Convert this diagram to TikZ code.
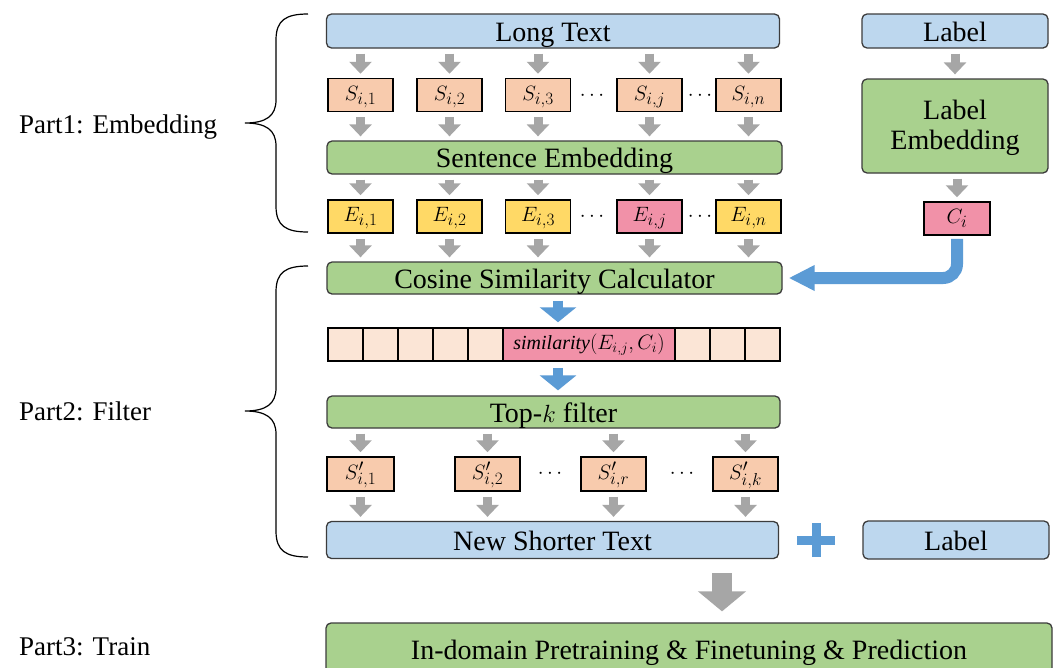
\documentclass[tikz,border=0pt]{standalone}
\usepackage{fontspec}
\setmainfont{Liberation Serif}
\DeclareMathSizes{22}{22}{17}{13}
\DeclareMathSizes{20}{20}{15}{12}
\usetikzlibrary{arrows.meta}
\definecolor{lblue}{RGB}{189,215,238}
\definecolor{lgreen}{RGB}{169,209,142}
\definecolor{peach}{RGB}{248,203,173}
\definecolor{yel}{RGB}{255,217,102}
\definecolor{mypink}{RGB}{241,145,168}
\definecolor{cellc}{RGB}{251,229,214}
\definecolor{garrc}{RGB}{166,166,166}
\definecolor{barrc}{RGB}{91,155,213}
\definecolor{bord}{RGB}{60,60,60}
\tikzset{
  rbox/.style={draw=bord, line width=1.3pt, rounded corners=5pt, inner sep=0pt, align=center, font=\fontsize{28}{31}\selectfont},
  oneline/.style={text height=22pt, text depth=2pt},
  sbox/.style={draw=black, line width=1.5pt, inner sep=0pt, minimum width=65pt, minimum height=33pt, text height=15pt, text depth=5pt, font=\fontsize{22}{24}\selectfont},
  cell/.style={draw=black, line width=1.5pt, fill=cellc, inner sep=0pt, minimum width=35pt, minimum height=33pt},
  garr/.style={draw=garrc, line width=9pt, -{Triangle[length=12pt,width=22pt]}, shorten <=5pt, shorten >=4pt},
  barr/.style={draw=barrc, line width=10pt, -{Triangle[length=15pt,width=36pt]}, shorten <=6pt, shorten >=5pt},
  partlab/.style={anchor=west, inner sep=0pt, font=\fontsize{27}{30}\selectfont},
  dots/.style={inner sep=0pt, font=\fontsize{20}{22}\selectfont},
  brace/.style={draw=black, line width=1.2pt}
}
\begin{document}
\begin{tikzpicture}[x=1pt,y=-1pt]
\clip (0,0) rectangle (1060,667);
\fill[white] (0,0) rectangle (1060,667);

% Part labels
\node[partlab] (p1) at (19,127) {Part1: Embedding};
\node[partlab] (p2) at (19,411) {Part2: Filter};
\node[partlab] (p3) at (19,647) {Part3: Train};

% braces
\draw[brace] (308,14) .. controls (286,14) and (276,20) .. (276,40) -- (276,100)
  .. controls (276,116) and (266,123) .. (245,123)
  .. controls (266,123) and (276,130) .. (276,146) -- (276,206)
  .. controls (276,226) and (286,232) .. (308,232);
\draw[brace] (308,266) .. controls (286,266) and (276,272) .. (276,292) -- (276,388)
  .. controls (276,404) and (266,411) .. (245,411)
  .. controls (266,411) and (276,418) .. (276,434) -- (276,531)
  .. controls (276,551) and (286,557) .. (308,557);

% Part 1
\node[rbox, oneline, fill=lblue, minimum width=453pt, minimum height=34pt] (lt) at (553,31) {Long Text};
\node[rbox, oneline, fill=lblue, minimum width=186pt, minimum height=34pt] (lab1) at (955,31) {Label};

\node[sbox, fill=peach] (s1) at (360.5,95) {$S_{i,1}$};
\node[sbox, fill=peach] (s2) at (449.5,95) {$S_{i,2}$};
\node[sbox, fill=peach] (s3) at (538,95) {$S_{i,3}$};
\node[sbox, fill=peach] (sj) at (649.5,95) {$S_{i,j}$};
\node[sbox, fill=peach] (sn) at (748.5,95) {$S_{i,n}$};
\node[dots] (d1) at (592,96) {$\cdots$};
\node[dots] (d2) at (700,96) {$\cdots$};

\node[rbox, oneline, fill=lgreen, minimum width=455pt, minimum height=33pt] (se) at (554.5,157.5) {Sentence Embedding};
\node[rbox, fill=lgreen, minimum width=186pt, minimum height=94pt] (le) at (955,126) {};
\node[align=center, inner sep=0pt, font=\fontsize{28}{30}\selectfont] (let) at (955,128) {Label\\Embedding};

\node[sbox, fill=yel] (e1) at (360.5,216.5) {$E_{i,1}$};
\node[sbox, fill=yel] (e2) at (449.5,216.5) {$E_{i,2}$};
\node[sbox, fill=yel] (e3) at (538,216.5) {$E_{i,3}$};
\node[sbox, fill=mypink] (ej) at (649.5,216.5) {$E_{i,j}$};
\node[sbox, fill=yel] (en) at (748.5,216.5) {$E_{i,n}$};
\node[dots] (d3) at (592,217) {$\cdots$};
\node[dots] (d4) at (700,217) {$\cdots$};
\node[sbox, fill=mypink, minimum width=66pt] (ci) at (957,218.5) {$C_i$};

\foreach \n in {1,2,3,j,n} {
  \draw[garr] (lt.south -| s\n.north) -- (s\n.north);
  \draw[garr] (s\n.south) -- (se.north -| s\n.south);
  \draw[garr] (se.south -| e\n.north) -- (e\n.north);
}
\draw[garr] (lab1.south) -- (le.north);
\draw[garr] (le.south -| ci.north) -- (ci.north);

% Part 2
\node[rbox, oneline, fill=lgreen, minimum width=455pt, minimum height=32pt] (cs) at (554.5,278) {Cosine Similarity Calculator};
\foreach \n in {1,2,3,j,n} {
  \draw[garr] (e\n.south) -- (cs.north -| e\n.south);
}
\draw[draw=barrc, line width=12pt, rounded corners=14pt, -{Triangle[length=26pt,width=24pt]}, shorten <=3pt, shorten >=6pt] (ci.south) |- (cs.east);

\node[cell] (c1) at (345.5,344.5) {};
\node[cell] (c2) at (380.5,344.5) {};
\node[cell] (c3) at (415.5,344.5) {};
\node[cell] (c4) at (450.5,344.5) {};
\node[cell] (c5) at (485.5,344.5) {};
\node[cell, fill=mypink, minimum width=172pt, text height=14pt, text depth=5pt, font=\fontsize{20}{23}\selectfont] (simc) at (589,344.5) {$\mathit{similarity}(E_{i,j},C_i)$};
\node[cell] (c7) at (692.5,344.5) {};
\node[cell] (c8) at (727.5,344.5) {};
\node[cell] (c9) at (762.5,344.5) {};

\coordinate (ax) at (558,0);
\draw[barr] (cs.south -| ax) -- (simc.north -| ax);

\node[rbox, oneline, fill=lgreen, minimum width=453pt, minimum height=32pt] (tk) at (553.5,412) {Top-$k$ filter};
\draw[barr] (simc.south -| ax) -- (tk.north -| ax);

\node[sbox, fill=peach, minimum width=67pt, minimum height=34pt] (t1) at (360.5,474) {$S'_{i,1}$};
\node[sbox, fill=peach, minimum width=65pt, minimum height=34pt] (t2) at (487.5,474) {$S'_{i,2}$};
\node[sbox, fill=peach, minimum width=65pt, minimum height=34pt] (tr) at (613.5,474) {$S'_{i,r}$};
\node[sbox, fill=peach, minimum width=65pt, minimum height=34pt] (tk2) at (745.5,474) {$S'_{i,k}$};
\node[dots] (d5) at (550,474) {$\cdots$};
\node[dots] (d6) at (682,474) {$\cdots$};

\node[rbox, oneline, fill=lblue, minimum width=452pt, minimum height=37pt] (nst) at (552.5,540) {New Shorter Text};
\node[rbox, oneline, fill=lblue, minimum width=186pt, minimum height=38pt] (lab2) at (956,540) {Label};

\foreach \n in {t1,t2,tr,tk2} {
  \draw[garr] (tk.south -| \n.north) -- (\n.north);
  \draw[garr] (\n.south) -- (nst.north -| \n.south);
}

% plus
\coordinate (plus) at (816,540);
\draw[barrc, line width=9pt] ([xshift=-19pt]plus) -- ([xshift=19pt]plus);
\draw[barrc, line width=9pt] ([yshift=-17pt]plus) -- ([yshift=17pt]plus);

% Part 3
\node[rbox, oneline, fill=lgreen, minimum width=726pt, minimum height=52pt] (idp) at (689,649) {In-domain Pretraining \& Finetuning \& Prediction};
\coordinate (bx) at (722,0);
\draw[draw=garrc, line width=20pt, -{Triangle[length=20pt,width=47pt]}, shorten <=14pt, shorten >=11pt] (nst.south -| bx) -- (idp.north -| bx);
\end{tikzpicture}
\end{document}
